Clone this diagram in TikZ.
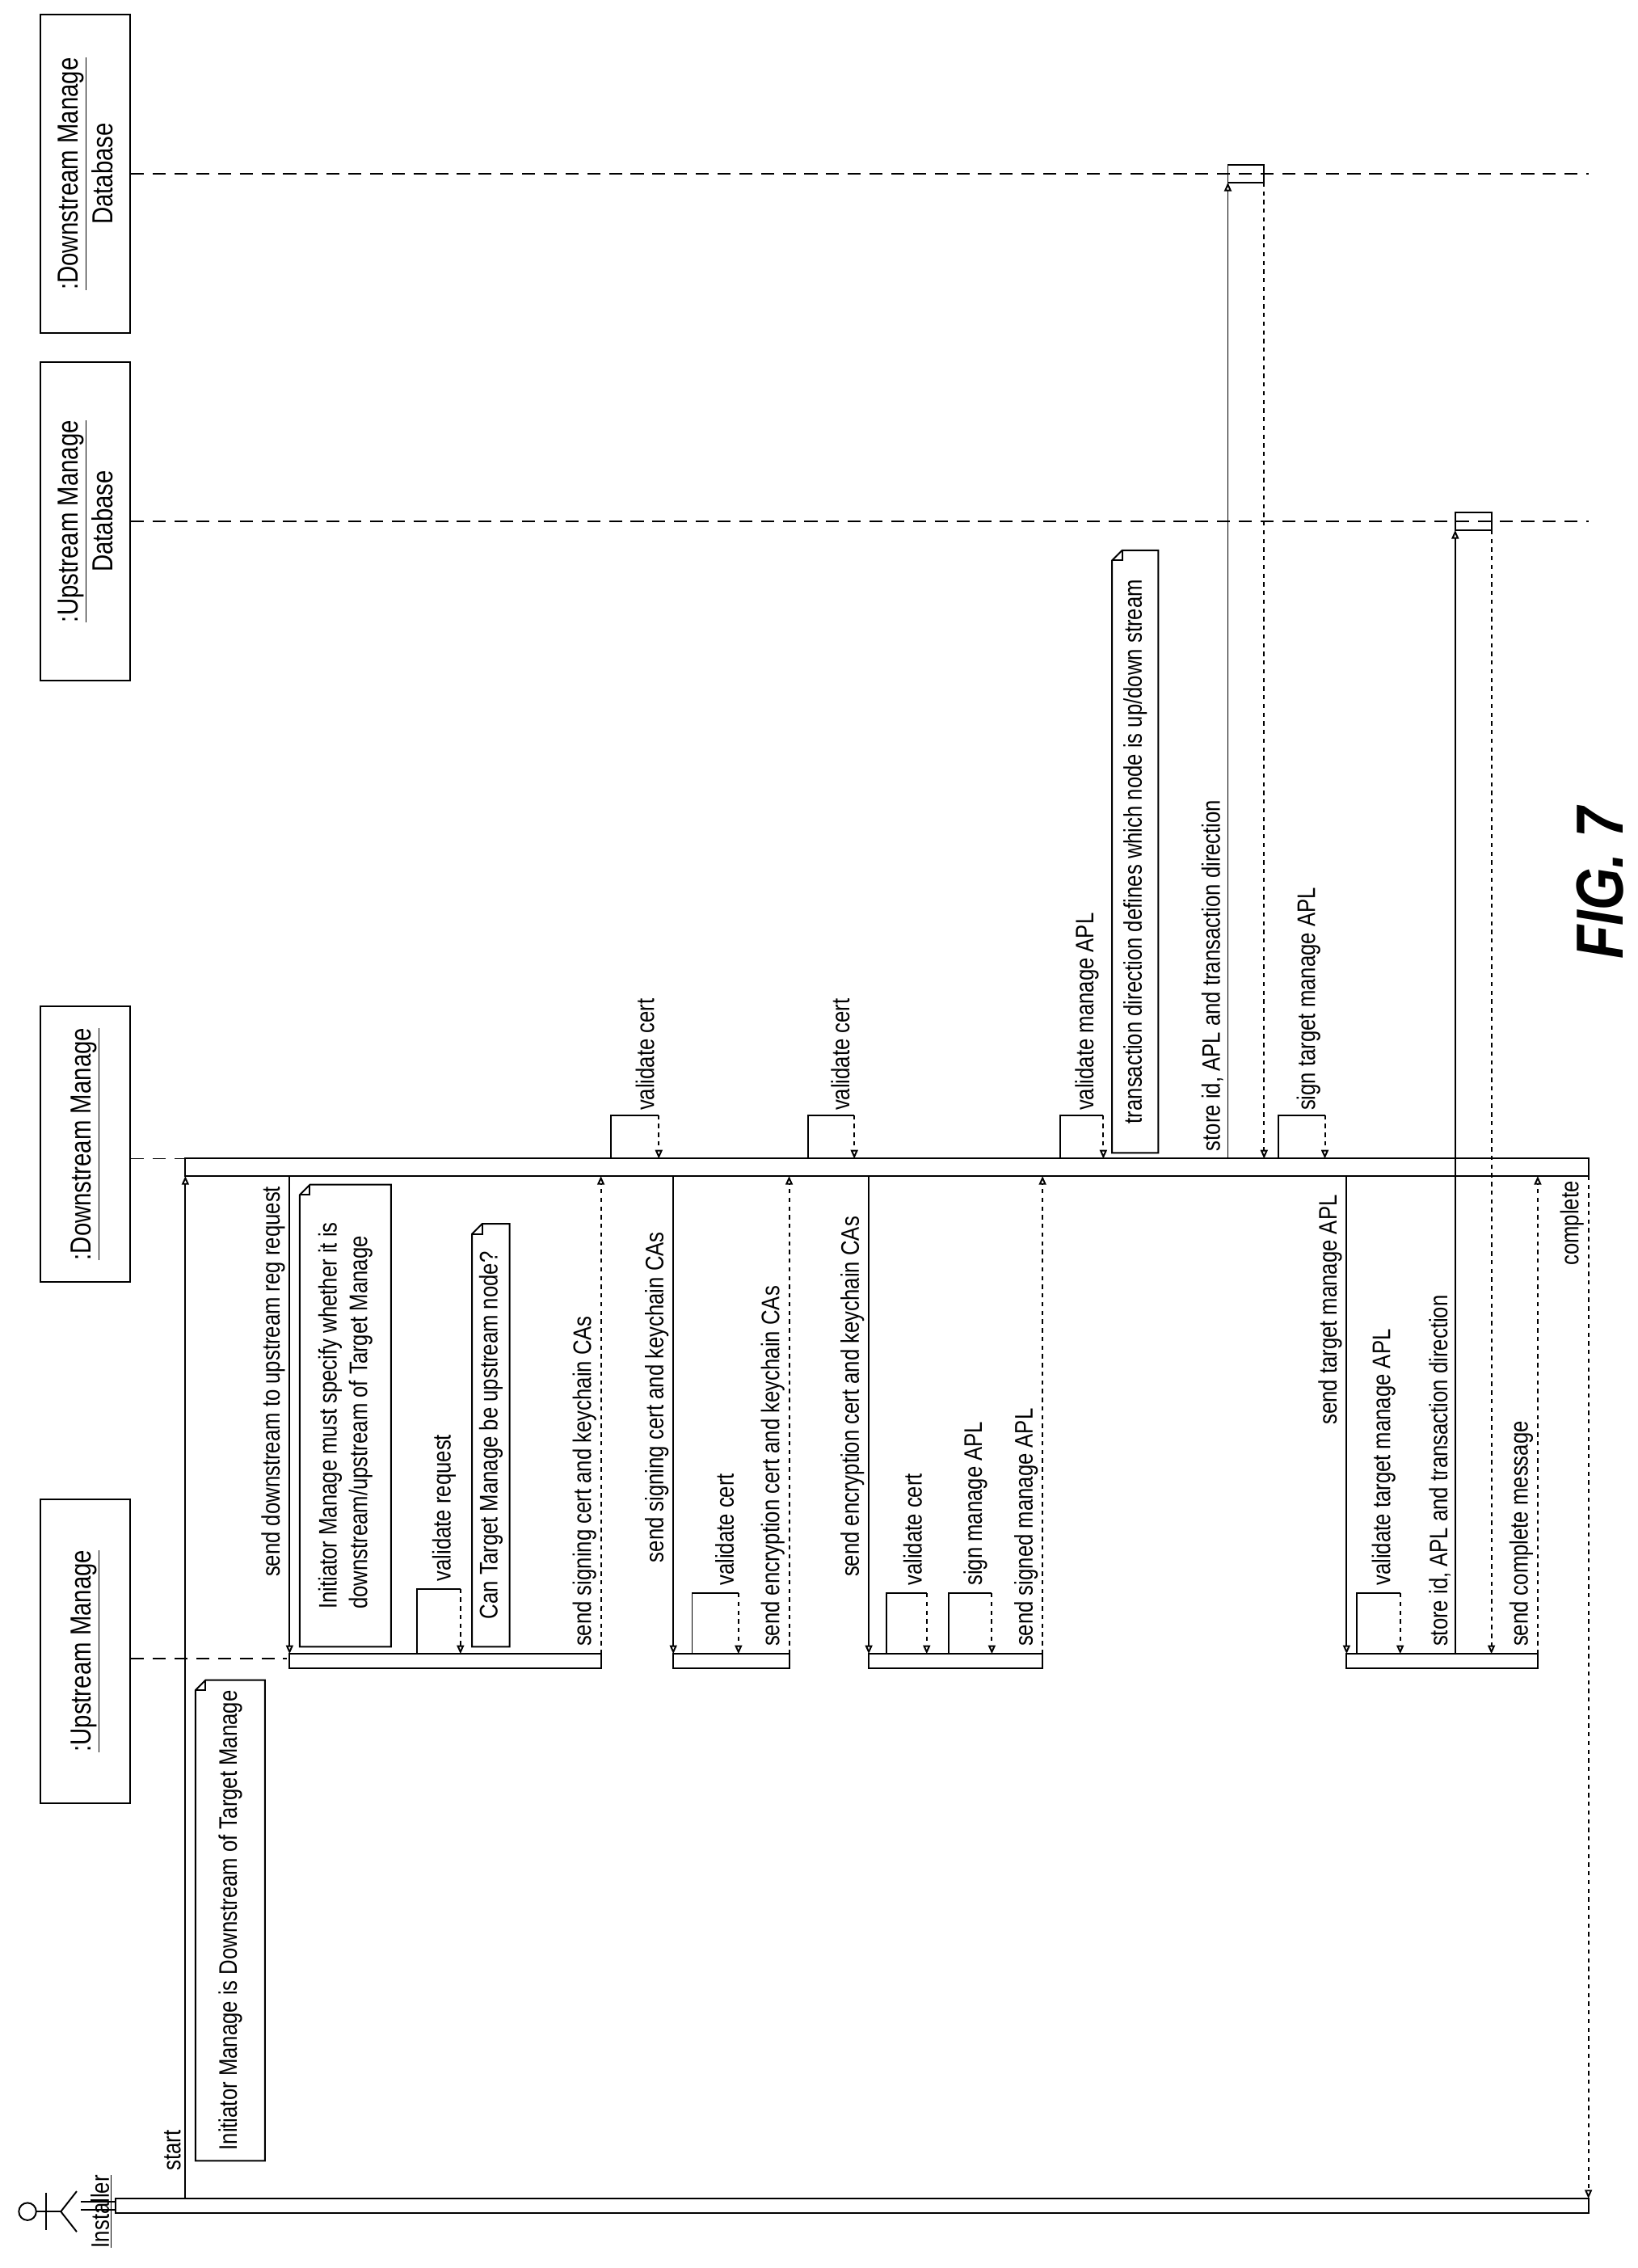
\documentclass[tikz,border=0pt]{standalone}
\usepackage{fontspec}
\setmainfont{Liberation Sans}[FakeStretch=0.82]
\usetikzlibrary{arrows.meta}
\newcommand\notebox[5]{%
  \draw[ln] (#1+7,#2) -- (#3,#2) -- (#3,#4) -- (#1,#4) -- (#1,#2+7) -- cycle;
  \draw[ln] (#1,#2+7) -- (#1+7,#2+7) -- (#1+7,#2);
  \node[lbl,anchor=center,align=left] at ({(#1+#3)/2},{(#2+#4)/2}) {#5};}
\newcommand\selfcall[4]{% xa, xb, ybar, ytop
  \draw[ln] (#1,#3) -- (#1,#4) -- (#2,#4);
  \draw[ln,dashed,arr] (#2,#4) -- (#2,#3);}
\begin{document}
\begin{tikzpicture}[x=1pt,y=-1pt,
  ln/.style={line width=1.1pt},
  arr/.style={-{Triangle[open,length=6pt,width=5pt]}},
  lbl/.style={rotate=90,font=\fontsize{17.5}{21}\selectfont,inner sep=1pt},
  lbl2/.style={lbl,anchor=south west},
  head/.style={draw,line width=1.1pt,rotate=90,align=center,font=\fontsize{20}{24}\selectfont},
  life/.style={line width=1pt,dash pattern=on 9pt off 6pt}]
\useasboundingbox (0,0) rectangle (1131,1566);
% headers
\node[head,minimum width=210,minimum height=62] (um) at (59,1140) {\underline{:Upstream Manage}};
\node[head,minimum width=190,minimum height=62] (dm) at (59,790) {\underline{:Downstream Manage}};
\node[head,minimum width=220,minimum height=62] (udb) at (59,360) {\underline{:Upstream Manage}\\Database};
\node[head,minimum width=220,minimum height=62] (ddb) at (59,120) {\underline{:Downstream Manage}\\Database};
% lifelines
\draw[life] (um.south |- 0,1145) -- (198,1145);
\draw[life] (dm.south |- 0,800) -- (128,800);
\draw[life] (udb.south) -- (1097,360);
\draw[life] (ddb.south) -- (1097,120);
% actor
\draw[ln] (19,1527) circle (6);
\draw[ln] (25,1527) -- (42,1527);
\draw[ln] (32,1514) -- (32,1540);
\draw[ln] (42,1527) -- (53,1513);
\draw[ln] (42,1527) -- (53,1541);
\node[lbl] (inst) at (70,1527) {\underline{Installer}};
% installer bar
\draw[ln] (80,1518) rectangle (1097,1528);
\draw[ln] (56,1520) -- (80,1520);
\draw[ln] (56,1526) -- (80,1526);
% downstream bar
\draw[ln] (128,800) rectangle (1097,812);
% start
\draw[ln,arr] (128,1518) -- (128,812);
\node[lbl2] at (126,1500) {start};
\notebox{135}{1160}{183}{1492}{Initiator Manage is Downstream of Target Manage}
% A1
\draw[ln] (200,1142) rectangle (415,1152);
\draw[ln,arr] (200,812) -- (200,1142);
\node[lbl2] at (198,1090) {send downstream to upstream reg request};
\notebox{207}{818}{270}{1137}{Initiator Manage must specify whether it is\\downstream/upstream of Target Manage}
\selfcall{288}{318}{1142}{1097}
\node[lbl2] at (316,1093) {validate request};
\notebox{326}{845}{352}{1137}{Can Target Manage be upstream node?}
\draw[ln,dashed,arr] (415,1142) -- (415,812);
\node[lbl2] at (413,1138) {send signing cert and keychain CAs};
% downstream validate cert 1
\selfcall{422}{455}{800}{770}
\node[lbl2] at (453,768) {validate cert};
% A2
\draw[ln] (465,1142) rectangle (545,1152);
\draw[ln,arr] (465,812) -- (465,1142);
\node[lbl2] at (463,1080) {send signing cert and keychain CAs};
\selfcall{478}{510}{1142}{1100}
\node[lbl2] at (508,1096) {validate cert};
\draw[ln,dashed,arr] (545,1142) -- (545,812);
\node[lbl2] at (543,1138) {send encryption cert and keychain CAs};
% downstream validate cert 2
\selfcall{558}{590}{800}{770}
\node[lbl2] at (588,768) {validate cert};
% A3
\draw[ln] (600,1142) rectangle (720,1152);
\draw[ln,arr] (600,812) -- (600,1142);
\node[lbl2] at (598,1090) {send encryption cert and keychain CAs};
\selfcall{612}{640}{1142}{1100}
\node[lbl2] at (638,1096) {validate cert};
\selfcall{655}{685}{1142}{1100}
\node[lbl2] at (683,1096) {sign manage APL};
\draw[ln,dashed,arr] (720,1142) -- (720,812);
\node[lbl2] at (718,1138) {send signed manage APL};
% validate manage APL
\selfcall{732}{762}{800}{770}
\node[lbl2] at (760,768) {validate manage APL};
\notebox{768}{380}{800}{796}{transaction direction defines which node is up/down stream}
% store in downstream DB
\draw[ln] (848,114) rectangle (873,126);
\draw[ln,arr] (848,800) -- (848,126);
\draw[ln,dashed,arr] (873,126) -- (873,800);
\node[lbl2] at (846,796) {store id, APL and transaction direction};
% sign target manage APL
\selfcall{883}{915}{800}{770}
\node[lbl2] at (913,768) {sign target manage APL};
% A4
\draw[ln] (930,1142) rectangle (1062,1152);
\draw[ln,arr] (930,812) -- (930,1142);
\node[lbl2] at (928,985) {send target manage APL};
\selfcall{937}{967}{1142}{1100}
\node[lbl2] at (965,1096) {validate target manage APL};
\draw[ln] (1005,354) rectangle (1030,366);
\draw[ln,arr] (1005,1142) -- (1005,366);
\draw[ln,dashed,arr] (1030,366) -- (1030,1142);
\node[lbl2] at (1003,1138) {store id, APL and transaction direction};
\draw[ln,dashed,arr] (1062,1142) -- (1062,812);
\node[lbl2] at (1060,1138) {send complete message};
\draw[ln,dashed,arr] (1097,812) -- (1097,1518);
\node[lbl2] at (1095,875) {complete};
% figure label
\node[rotate=90,font=\fontsize{46}{52}\selectfont\bfseries\itshape] (fig) at (1105,610) {FIG. 7};
\end{tikzpicture}
\end{document}
